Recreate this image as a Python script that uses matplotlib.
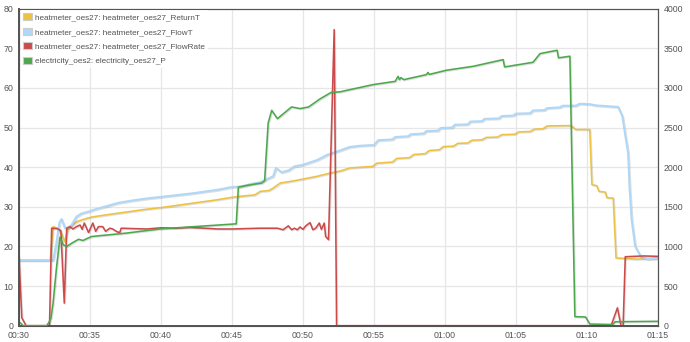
import numpy as np
import matplotlib
matplotlib.use("Agg")
import matplotlib.pyplot as plt
import matplotlib.patheffects as pe
from matplotlib.patches import Patch

# minutes after 00:30
return_t_min = [0, 2.2, 2.4, 2.7, 3.0, 3.2, 3.45, 3.7, 4.1, 4.6, 5.1, 6.0, 7.0, 8.0, 9.0, 10.0,
                11.0, 12.0, 13.0, 14.0, 15.0, 16.0, 16.6, 17.0, 17.6, 17.9, 18.4, 19.1, 20.0,
                21.0, 21.9, 22.6, 23.3, 24.9, 25.2, 26.3, 26.6, 27.5, 27.8, 28.6, 28.9, 29.6,
                29.9, 30.6, 30.9, 31.6, 31.9, 32.6, 32.9, 33.7, 34.0, 34.9, 35.2, 36.0, 36.3,
                36.9, 37.2, 38.9, 39.2, 40.2, 40.35, 40.7, 40.85, 41.3, 41.4, 41.85, 42.05,
                43.5, 45.0]
return_t = [16.5, 16.5, 25.0, 24.6, 23.3, 21.2, 24.2, 25.3, 26.3, 26.9, 27.4, 27.9, 28.4, 28.9,
            29.4, 29.8, 30.3, 30.8, 31.3, 31.8, 32.4, 32.8, 33.0, 33.9, 34.1, 34.7, 36.0, 36.4,
            37.0, 37.7, 38.5, 39.0, 39.8, 40.2, 41.0, 41.3, 42.2, 42.4, 43.2, 43.4, 44.2, 44.4,
            45.2, 45.3, 46.0, 46.1, 46.8, 46.9, 47.5, 47.6, 48.2, 48.3, 48.9, 49.0, 49.6, 49.7,
            50.4, 50.5, 49.5, 49.5, 35.6, 35.3, 33.9, 33.7, 32.3, 32.2, 17.1, 16.8, 17.0]

flow_t_min = [0, 2.4, 2.6, 2.85, 3.0, 3.25, 3.5, 3.7, 4.05, 4.4, 4.9, 5.3, 5.7, 6.5, 7.0, 8.0,
              9.0, 10.0, 11.0, 12.0, 13.0, 14.0, 15.0, 15.6, 16.4, 17.0, 17.9, 18.1, 18.5, 19.0,
              19.4, 20.0, 21.0, 21.7, 22.6, 23.3, 24.0, 25.0, 25.3, 26.3, 26.5, 27.4, 27.6,
              28.5, 28.7, 29.5, 29.7, 30.5, 30.7, 31.6, 31.8, 32.6, 32.8, 33.8, 34.0, 34.8,
              35.0, 36.0, 36.2, 37.0, 37.2, 38.1, 38.3, 39.2, 39.5, 40.2, 40.6, 42.2, 42.5,
              42.7, 42.9, 43.0, 43.15, 43.4, 43.8, 44.3, 45.0]
flow_t = [16.5, 16.5, 20.0, 26.0, 26.9, 24.6, 24.8, 25.4, 27.5, 28.3, 28.8, 29.3, 29.7, 30.5,
          31.0, 31.6, 32.1, 32.5, 32.9, 33.3, 33.8, 34.3, 35.0, 35.1, 35.8, 36.2, 37.7, 39.8,
          38.7, 39.2, 40.2, 40.6, 41.8, 43.1, 44.2, 45.1, 45.4, 45.6, 46.8, 47.0, 47.6, 47.8,
          48.3, 48.5, 49.1, 49.2, 49.9, 50.0, 50.7, 50.8, 51.5, 51.6, 52.2, 52.3, 52.9, 53.0,
          53.5, 53.6, 54.3, 54.4, 54.9, 55.1, 55.5, 55.5, 56.0, 55.9, 55.6, 55.2, 52.8, 48.0,
          43.6, 35.1, 26.7, 20.0, 17.4, 16.8, 17.0]

flow_rate_min = [0, 0.2, 0.5, 2.15, 2.3, 2.7, 2.95, 3.19, 3.36, 3.6, 3.8, 4.05, 4.3, 4.45, 4.6,
                 4.9, 5.2, 5.4, 5.6, 5.9, 6.1, 6.4, 6.6, 6.9, 7.1, 7.2, 8.0, 9.0, 10.0, 11.0,
                 12.0, 13.0, 14.0, 15.0, 16.0, 17.0, 18.2, 18.6, 18.97, 19.2, 19.4, 19.6, 19.8,
                 20.0, 20.2, 20.5, 20.7, 20.9, 21.15, 21.3, 21.5, 21.6, 21.8, 22.2, 22.37, 41.7,
                 42.15, 42.4, 42.55, 42.7, 44.0, 45.0]
flow_rate = [17.4, 2.0, 0.0, 0.0, 24.6, 24.5, 24.0, 5.7, 24.6, 25.0, 24.4, 25.0, 25.4, 24.3,
             25.9, 23.5, 25.9, 23.8, 25.0, 25.0, 23.8, 24.6, 24.4, 23.7, 23.5, 24.6, 24.5, 24.4,
             24.7, 24.6, 24.8, 24.6, 24.4, 24.4, 24.5, 24.6, 24.6, 24.2, 25.2, 24.2, 24.6, 24.2,
             24.9, 24.3, 25.2, 26.0, 24.2, 24.6, 25.9, 24.3, 25.9, 22.5, 21.7, 74.7, 0.0, 0.0,
             4.5, 0.0, 0.0, 17.4, 17.6, 17.5]

power_min = [0, 0.3, 1.95, 2.1, 2.25, 2.4, 2.65, 2.89, 3.12, 3.36, 3.8, 4.2, 4.5, 5.1, 7.5,
             10.0, 15.3, 15.45, 16.2, 17.1, 17.3, 17.55, 17.8, 18.2, 19.2, 19.8, 20.4, 21.2,
             22.0, 22.6, 23.3, 24.95, 26.5, 26.7, 26.8, 26.9, 27.1, 28.7, 28.8, 28.9, 30.1,
             32.0, 34.1, 34.2, 36.2, 36.7, 37.9, 38.0, 38.8, 39.15, 39.9, 40.2, 41.8, 42.0,
             45.0]
power = [50, 0, 0, 40, 93, 283, 745, 1117, 1020, 1000, 1050, 1090, 1075, 1125, 1167, 1222, 1285,
         1749, 1775, 1800, 1830, 2557, 2717, 2612, 2760, 2739, 2760, 2861, 2945, 2950, 2978,
         3042, 3083, 3146, 3104, 3130, 3104, 3168, 3195, 3170, 3223, 3273, 3357, 3265, 3323,
         3433, 3475, 3379, 3400, 114, 110, 21, 15, 50, 55]

x_ticks = [0, 5, 10, 15, 20, 25, 30, 35, 40, 45]
x_tick_labels = ['00:30', '00:35', '00:40', '00:45', '00:50', '00:55', '01:00', '01:05',
                 '01:10', '01:15']

labels = ['heatmeter_oes27: heatmeter_oes27_ReturnT',
          'heatmeter_oes27: heatmeter_oes27_FlowT',
          'heatmeter_oes27: heatmeter_oes27_FlowRate',
          'electricity_oes2: electricity_oes27_P']
colors = ['#edc240', '#afd8f8', '#cb4b4b', '#4da74d']

plt.rcParams['font.family'] = ['Liberation Sans', 'DejaVu Sans']

fig = plt.figure(figsize=(6.9, 3.42), dpi=100)
ax = fig.add_axes([0.0275, 0.0477, 0.926, 0.927])
ax2 = ax.twinx()

shadow = [pe.SimpleLineShadow(offset=(0.7, -0.7), shadow_color='k', alpha=0.12),
          pe.Normal()]
lw = 1.15
ax.plot(return_t_min, return_t, color=colors[0], lw=lw, path_effects=shadow)
ax.plot(flow_t_min, flow_t, color=colors[1], lw=lw + 0.35, path_effects=shadow)
ax.plot(flow_rate_min, flow_rate, color=colors[2], lw=lw, path_effects=shadow)
ax2.plot(power_min, power, color=colors[3], lw=lw, path_effects=shadow)

ax.set_xlim(0, 45)
ax.set_ylim(0, 80)
ax2.set_ylim(0, 4000)
ax.set_yticks(range(0, 81, 10))
ax2.set_yticks(range(0, 4001, 500))
ax.set_xticks(x_ticks)
ax.set_xticklabels(x_tick_labels)

ax.grid(True, color='#e6e6e6', lw=0.9)
ax.set_axisbelow(True)
for a in (ax, ax2):
    a.tick_params(length=0, labelsize=6.3, colors='#545454', pad=4)
    for s in a.spines.values():
        s.set_color('#545454')
        s.set_linewidth(0.8)
ax.spines['left'].set_linewidth(1.4)
ax.spines['bottom'].set_linewidth(1.4)

handles = [Patch(facecolor=c, edgecolor='#cccccc', lw=0.8) for c in colors]
leg = ax2.legend(handles, labels, loc='upper left', fontsize=5.9, frameon=True,
                 handlelength=1.05, handleheight=0.9, handletextpad=0.4,
                 labelspacing=0.78, borderpad=0.35, borderaxespad=0.2)
leg.get_frame().set_facecolor('white')
leg.get_frame().set_alpha(0.85)
leg.get_frame().set_edgecolor('none')
leg.get_frame().set_boxstyle('square', pad=0)
for t in leg.get_texts():
    t.set_color('#545454')

fig.savefig('out.png', dpi=100)
